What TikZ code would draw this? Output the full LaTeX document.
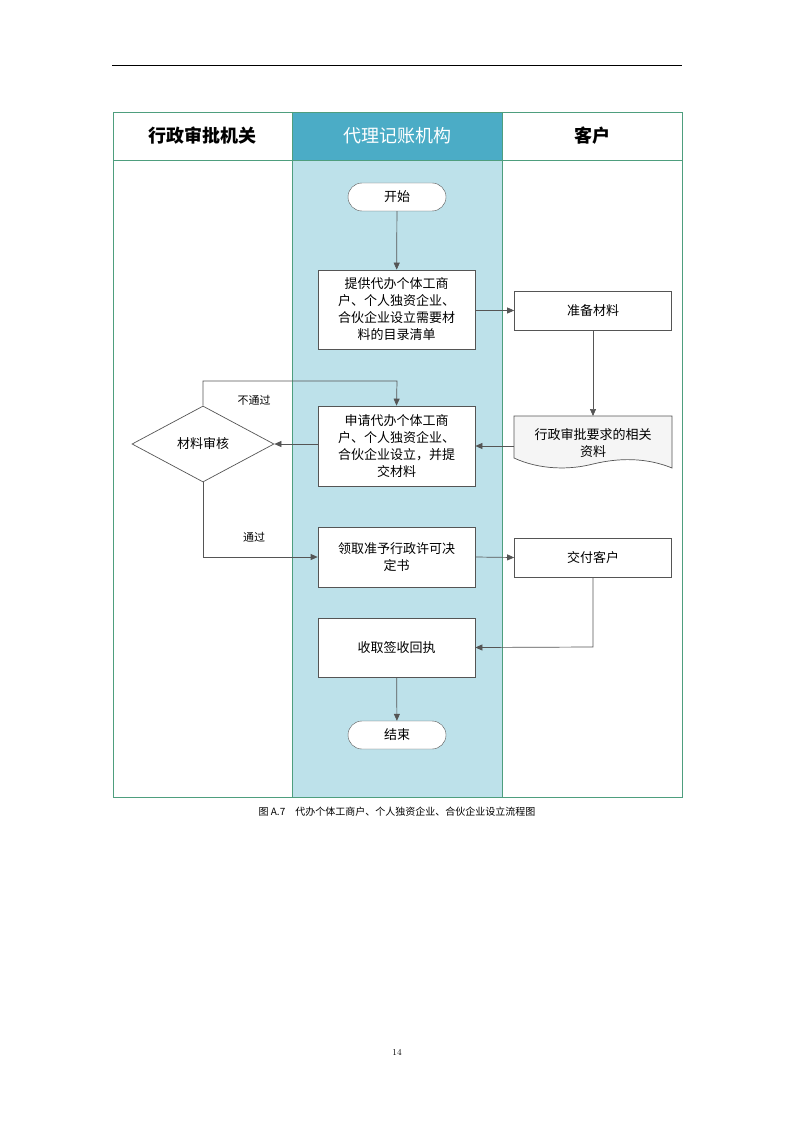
\documentclass[tikz,border=0pt]{standalone}
\usepackage{fontspec}
\newfontfamily\cjk{Noto Sans CJK SC}
\usetikzlibrary{arrows.meta,shapes.geometric}
\definecolor{lane}{HTML}{BDE1EA}
\definecolor{hdr}{HTML}{4BACC6}
\definecolor{frame}{HTML}{4E9E7E}
\definecolor{ln}{HTML}{555555}
\begin{document}
\begin{tikzpicture}[x=1pt,y=-1pt,
 box/.style={draw=ln,fill=white,line width=0.7pt,minimum width=157pt,align=center,font=\cjk\fontsize{13}{17}\selectfont,inner sep=1pt},
 term/.style={draw=ln,fill=white,rounded corners=14pt,minimum width=98pt,minimum height=28pt,font=\cjk\fontsize{13}{16}\selectfont},
 conn/.style={draw=ln,line width=0.7pt,-{Triangle[length=7pt,width=6pt]}},
 lbl/.style={font=\cjk\fontsize{11}{13}\selectfont}]
\useasboundingbox (0,0) rectangle (794,1123);
\fill[white] (0,0) rectangle (794,1123);
\draw[line width=0.6pt] (112,65) -- (682,65);
\fill[lane] (292,160) rectangle (502,797);
\fill[hdr] (292,112) rectangle (502,160);
\draw[frame,line width=0.8pt] (113,112) rectangle (682,797);
\draw[frame,line width=0.8pt] (113,160) -- (682,160);
\draw[frame,line width=0.8pt] (292,112) -- (292,797) (502,112) -- (502,797);
\node[font=\cjk\bfseries\fontsize{18}{20}\selectfont] (h1) at (202,136) {行政审批机关};
\node[font=\cjk\fontsize{18}{20}\selectfont,text=white] (h2) at (397,136) {代理记账机构};
\node[font=\cjk\bfseries\fontsize{18}{20}\selectfont] (h3) at (592,136) {客户};
\node[term] (start) at (397,197) {开始};
\node[box,minimum height=79pt] (b1) at (396.5,309.5) {提供代办个体工商\\户、个人独资企业、\\合伙企业设立需要材\\料的目录清单};
\node[box,minimum height=39pt] (prep) at (593,310.5) {准备材料};
\node[box,minimum height=80pt] (b2) at (396.5,446) {申请代办个体工商\\户、个人独资企业、\\合伙企业设立，并提\\交材料};
\fill[white!92!gray,draw=ln,line width=0.7pt] (514,416) -- (672,416) -- (672,468) .. controls (640,455) and (610,460) .. (593,464) .. controls (570,470) and (540,470) .. (514,458) -- cycle;
\node[font=\cjk\fontsize{13}{17}\selectfont,align=center] (doc) at (593,443) {行政审批要求的相关\\资料};
\coordinate (docT) at (593,416);
\coordinate (docL) at (514,446);
\node[diamond,draw=ln,fill=white,line width=0.7pt,minimum width=142pt,minimum height=76pt,inner sep=0pt,aspect=1.87,font=\cjk\fontsize{13}{16}\selectfont] (dia) at (203,444) {材料审核};
\node[box,minimum height=60pt] (b3) at (396.5,557) {领取准予行政许可决\\定书};
\node[box,minimum height=39pt] (give) at (593,557.5) {交付客户};
\node[box,minimum height=59pt] (b4) at (396.5,647.5) {收取签收回执};
\node[term] (end) at (397,735) {结束};
\draw[conn] (start) -- (b1);
\draw[conn] (b1.east|-prep) -- (prep);
\draw[conn] (prep) -- (docT);
\draw[conn] (docL) -- (b2.east|-docL);
\draw[conn] (b2.west|-dia) -- (dia.east);
\draw[conn] (dia.north) -- (203,381) -- (397,381) -- (b2.north);
\draw[conn] (dia.south) -- (203,557) -- (b3.west);
\draw[conn] (b3.east) -- (give.west);
\draw[conn] (give.south) -- (593,647) -- (b4.east);
\draw[conn] (b4) -- (end);
\node[lbl] (l1) at (254,400) {不通过};
\node[lbl] (l2) at (254,537) {通过};
\node[font=\cjk\fontsize{10}{12}\selectfont] (cap) at (397,812) {图 A.7\quad 代办个体工商户、个人独资企业、合伙企业设立流程图};
\node[font=\fontsize{9}{11}\selectfont] (pg) at (397,1052) {14};
\end{tikzpicture}
\end{document}
